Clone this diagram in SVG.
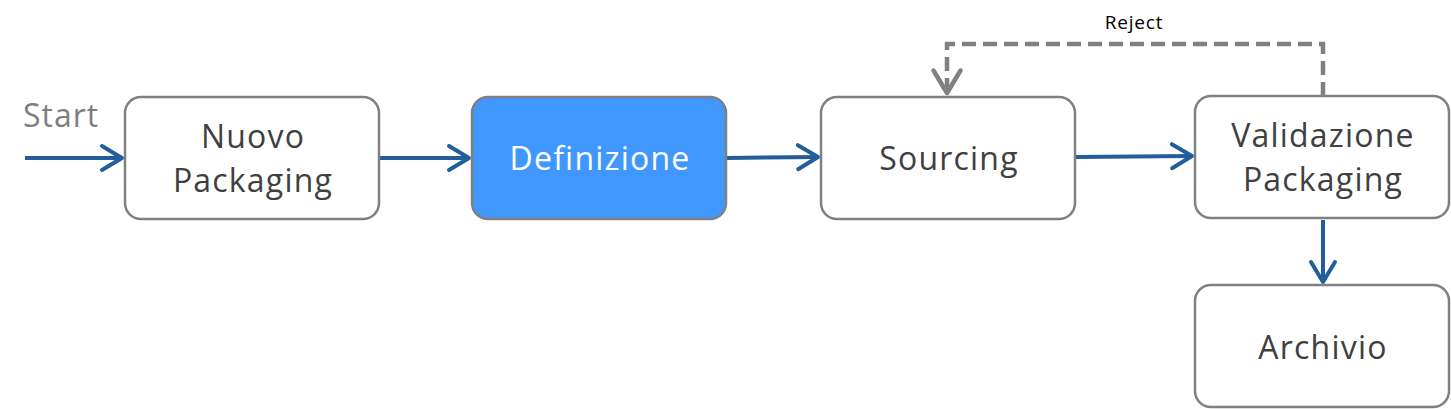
<svg xmlns="http://www.w3.org/2000/svg" width="1451" height="409" viewBox="0 0 1451 409">
<defs>
<marker id="chev" viewBox="0 0 12 14" refX="11" refY="7" markerWidth="6" markerHeight="7" markerUnits="strokeWidth" orient="auto" overflow="visible">
<path d="M1,1 L11,7 L1,13" fill="none" stroke="#235E9B" stroke-width="2" stroke-linecap="round" stroke-linejoin="round"/>
</marker>
<marker id="chevg" viewBox="0 0 12 14" refX="11" refY="7" markerWidth="6" markerHeight="7" markerUnits="strokeWidth" orient="auto" overflow="visible">
<path d="M1,1 L11,7 L1,13" fill="none" stroke="#808080" stroke-width="2" stroke-linecap="round" stroke-linejoin="round"/>
</marker>
</defs>
<style>
.box{fill:#fff;stroke:#808080;stroke-width:2.5}
.hl{fill:#3F97FF;stroke:#808080;stroke-width:2.5}
.t{font-family:"Open Sans","Liberation Sans",sans-serif;font-size:32px;letter-spacing:1.2px;fill:#404040;text-anchor:middle}
.w{fill:#fff}
.flow{fill:none;stroke:#235E9B;stroke-width:4;marker-end:url(#chev)}
.rej{fill:none;stroke:#808080;stroke-width:4.5;stroke-dasharray:14 7;marker-end:url(#chevg)}
</style>
<rect width="1451" height="409" fill="#fff"/>
<text x="23" y="127" font-family="Open Sans, Liberation Sans, sans-serif" font-size="32" letter-spacing="1" fill="#7F7F7F">Start</text>
<text x="1134" y="29" font-family="Open Sans, Liberation Sans, sans-serif" font-size="19" letter-spacing="0.8" fill="#000" text-anchor="middle">Reject</text>
<g id="connectors">
<path class="flow" d="M25,158 L122,158"/>
<path class="flow" d="M380,158 L469,158"/>
<path class="flow" d="M727,158 L818,157"/>
<path class="flow" d="M1076,157 L1192,156"/>
<path class="flow" d="M1323,220 L1323,282"/>
<path class="rej" d="M1323,96 L1323,44 L947,44 L947,93"/>
</g>
<g id="nuovo">
<rect class="box" x="125" y="97" width="254" height="122" rx="16"/>
<text class="t" x="253" y="148">Nuovo</text>
<text class="t" x="253" y="192">Packaging</text>
</g>
<g id="definizione">
<rect class="hl" x="472" y="97" width="254" height="122" rx="16"/>
<text class="t w" x="600" y="170">Definizione</text>
</g>
<g id="sourcing">
<rect class="box" x="821" y="97" width="254" height="122" rx="16"/>
<text class="t" x="949" y="170">Sourcing</text>
</g>
<g id="validazione">
<rect class="box" x="1195" y="96" width="254" height="122" rx="16"/>
<text class="t" x="1323" y="147">Validazione</text>
<text class="t" x="1323" y="191">Packaging</text>
</g>
<g id="archivio">
<rect class="box" x="1195" y="285" width="254" height="122" rx="16"/>
<text class="t" x="1323" y="359">Archivio</text>
</g>
</svg>
